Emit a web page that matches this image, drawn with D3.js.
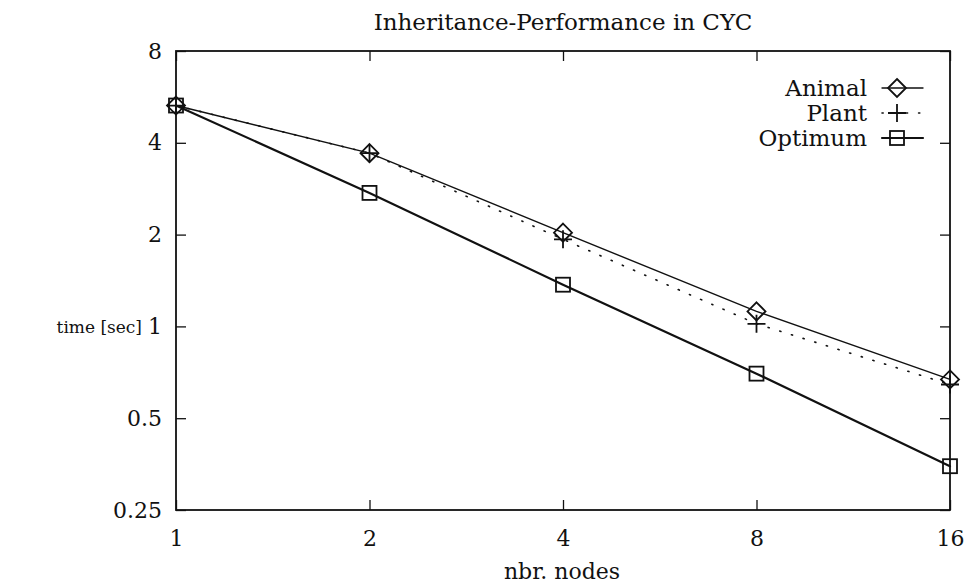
<!DOCTYPE html>
<html>
<head>
<meta charset="utf-8">
<script src="https://cdn.jsdelivr.net/npm/d3@7"></script>
<style>
  body { margin: 0; background: #fff; }
  text { font-family: "DejaVu Serif", "Liberation Serif", serif; fill: #111; }
</style>
</head>
<body>
<svg id="viz" width="966" height="583"></svg>
<script>
// data
const nodes = [1, 2, 4, 8, 16]
const animal = [5.3, 3.7, 2.03, 1.12, 0.67]
const plant = [5.3, 3.7, 1.93, 1.02, 0.645]
const optimum = [5.3, 2.74, 1.37, 0.70, 0.348]
const yTicks = [0.25, 0.5, 1, 2, 4, 8]
const yTickLabels = ['0.25', '0.5', '1', '2', '4', '8']

const svg = d3.select('#viz')
const plotL = 176, plotR = 950, plotT = 51, plotB = 510

const x = d3.scaleLog().base(2).domain([1, 16]).range([plotL, plotR])
const y = d3.scaleLog().base(2).domain([0.25, 8]).range([plotB, plotT])

// frame
svg.append('rect')
  .attr('x', plotL).attr('y', plotT)
  .attr('width', plotR - plotL).attr('height', plotB - plotT)
  .style('fill', 'none').style('stroke', '#111').style('stroke-width', 1.8)

// axes, ticks pointing inward, mirrored on the opposite side
const tickStyle = g => {
  g.select('.domain').remove()
  g.selectAll('line').style('stroke', '#111').style('stroke-width', 1.3)
  g.selectAll('text').style('font-size', '22px').style('fill', '#111')
    .style('font-family', '"DejaVu Serif", serif')
}
svg.append('g').attr('transform', `translate(0,${plotB})`)
  .call(d3.axisBottom(x).tickValues(nodes).tickFormat(d3.format('d')).tickSizeInner(-10).tickPadding(20))
  .call(tickStyle)
svg.append('g').attr('transform', `translate(0,${plotT})`)
  .call(d3.axisTop(x).tickValues(nodes).tickFormat('').tickSizeInner(-10))
  .call(tickStyle)
svg.append('g').attr('transform', `translate(${plotL},0)`)
  .call(d3.axisLeft(y).tickValues(yTicks).tickFormat((d, i) => yTickLabels[i]).tickSizeInner(-10).tickPadding(14))
  .call(tickStyle)
svg.append('g').attr('transform', `translate(${plotR},0)`)
  .call(d3.axisRight(y).tickValues(yTicks).tickFormat('').tickSizeInner(-10))
  .call(tickStyle)

// titles
svg.append('text').attr('x', 563).attr('y', 30).attr('text-anchor', 'middle')
  .style('font-size', '23px').text('Inheritance-Performance in CYC')
svg.append('text').attr('x', 142).attr('y', 333).attr('text-anchor', 'end')
  .style('font-size', '17px').text('time [sec]')
svg.append('text').attr('x', 562).attr('y', 579).attr('text-anchor', 'middle')
  .style('font-size', '22px').text('nbr. nodes')

const line = d3.line().x((d, i) => x(nodes[i])).y(d => y(d))

const series = [
  { name: 'Animal', values: animal, width: 1.4, dash: null, mark: 'diamond' },
  { name: 'Plant', values: plant, width: 1.6, dash: '1.2 11', mark: 'plus' },
  { name: 'Optimum', values: optimum, width: 2.2, dash: null, mark: 'square' },
]

const drawMark = (g, kind, cx, cy) => {
  if (kind === 'diamond') {
    g.append('path')
      .attr('d', `M${cx},${cy - 9}L${cx + 9},${cy}L${cx},${cy + 9}L${cx - 9},${cy}Z`)
      .style('fill', 'none').style('stroke', '#111').style('stroke-width', 1.8)
  } else if (kind === 'square') {
    g.append('rect').attr('x', cx - 7).attr('y', cy - 7).attr('width', 14).attr('height', 14)
      .style('fill', 'none').style('stroke', '#111').style('stroke-width', 1.8)
  } else {
    g.append('path')
      .attr('d', `M${cx - 9},${cy}H${cx + 9}M${cx},${cy - 9}V${cy + 9}`)
      .style('fill', 'none').style('stroke', '#111').style('stroke-width', 1.8)
  }
}

const legendY = [88, 113, 138]

series.forEach((s, k) => {
  const g = svg.append('g')
  g.append('path').datum(s.values)
    .attr('d', line)
    .style('fill', 'none').style('stroke', '#111')
    .style('stroke-width', s.width)
    .style('stroke-dasharray', s.dash)
    .style('stroke-linecap', 'round')
  s.values.forEach((v, i) => drawMark(g, s.mark, x(nodes[i]), y(v)))

  // legend row
  const ly = legendY[k]
  g.append('text').attr('x', 867).attr('y', ly + 8).attr('text-anchor', 'end')
    .style('font-size', '23px').text(s.name)
  g.append('line').attr('x1', 882).attr('x2', 923).attr('y1', ly).attr('y2', ly)
    .style('stroke', '#111').style('stroke-width', s.width)
    .style('stroke-dasharray', s.dash).style('stroke-linecap', 'round')
  drawMark(g, s.mark, 897, ly)
})
</script>
</body>
</html>
